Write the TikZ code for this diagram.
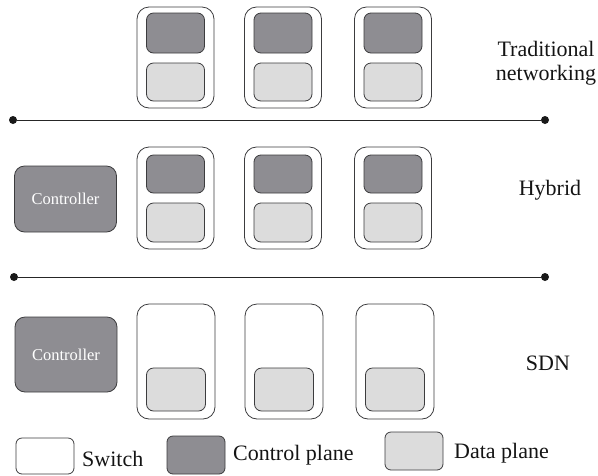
\documentclass[tikz,border=0pt]{standalone}
\usepackage{fontspec}
\setmainfont{Liberation Serif}
\definecolor{ctrlgray}{RGB}{142,141,146}
\definecolor{datagray}{RGB}{220,220,220}
\definecolor{edgegray}{RGB}{60,60,62}
\begin{document}
\begin{tikzpicture}[x=1pt,y=-1pt,
  switchbox/.style={draw=edgegray,line width=0.8pt,fill=white,rounded corners=12pt,inner sep=0pt},
  ctrlbox/.style={draw=edgegray,line width=0.8pt,fill=ctrlgray,rounded corners=7pt,inner sep=0pt,minimum width=58pt},
  databox/.style={draw=edgegray,line width=0.8pt,fill=datagray,rounded corners=7pt,inner sep=0pt,minimum width=58pt},
  controller/.style={draw=edgegray,line width=0.8pt,fill=ctrlgray,rounded corners=10pt,inner sep=0pt,
    minimum width=102pt,text=white,font=\fontsize{16.5}{18}\selectfont},
  label/.style={font=\fontsize{22}{24}\selectfont,text=black!92,inner sep=0pt},
  dot/.style={circle,fill=black!90,inner sep=0pt,minimum size=8pt},
  divider/.style={draw=black!85,line width=0.9pt}
]
\useasboundingbox (0,0) rectangle (598,475);

% ---- Traditional networking: control and data plane in every switch
\foreach \i/\cx in {1/175.5,2/283,3/393}{
  \node[switchbox,minimum width=77pt,minimum height=101pt] (t\i) at (\cx,57.5) {};
  \node[ctrlbox,minimum height=40pt] (tc\i) at (\cx,33) {};
  \node[databox,minimum height=38pt] (td\i) at (\cx,82) {};
}
\node[label,align=center] (ltrad) at (546,63) {Traditional\\networking};

% divider between the first two rows
\node[dot] (d1a) at (13,120) {};
\node[dot] (d1b) at (545,120) {};
\draw[divider] (d1a) -- (d1b);

% ---- Hybrid: a controller beside switches that keep their control plane
\node[controller,minimum height=66pt] (hc) at (65.5,199) {Controller};
\foreach \i/\cx in {1/175.5,2/283,3/393}{
  \node[switchbox,minimum width=77pt,minimum height=102pt] (h\i) at (\cx,198) {};
  \node[ctrlbox,minimum height=38pt] (hcp\i) at (\cx,174) {};
  \node[databox,minimum height=39pt] (hd\i) at (\cx,222.5) {};
}
\node[label] (lhyb) at (550,190) {Hybrid};

% divider between the last two rows
\node[dot] (d2a) at (14,277) {};
\node[dot] (d2b) at (545,277) {};
\draw[divider] (d2a) -- (d2b);

% ---- SDN: the controller alone holds the control plane
\node[controller,minimum height=75pt] (sc) at (66,354.5) {Controller};
\foreach \i/\cx in {1/176,2/284,3/395}{
  \node[switchbox,minimum width=78pt,minimum height=115pt] (s\i) at (\cx,361.5) {};
  \node[databox,minimum width=59pt,minimum height=43pt] (sd\i) at (\cx,389.5) {};
}
\node[label] (lsdn) at (548,363) {SDN};

% ---- legend
\node[switchbox,rounded corners=6pt,minimum width=58pt,minimum height=36pt] (kswitch) at (45,456) {};
\node[label,anchor=west] (tswitch) at (82,459) {Switch};
\node[ctrlbox,rounded corners=6pt,minimum height=38pt] (kctrl) at (196,455) {};
\node[label,anchor=west] (tctrl) at (233,455) {Control plane};
\node[databox,rounded corners=6pt,minimum height=38pt] (kdata) at (414,451) {};
\node[label,anchor=west] (tdata) at (454,453) {Data plane};
\end{tikzpicture}
\end{document}
